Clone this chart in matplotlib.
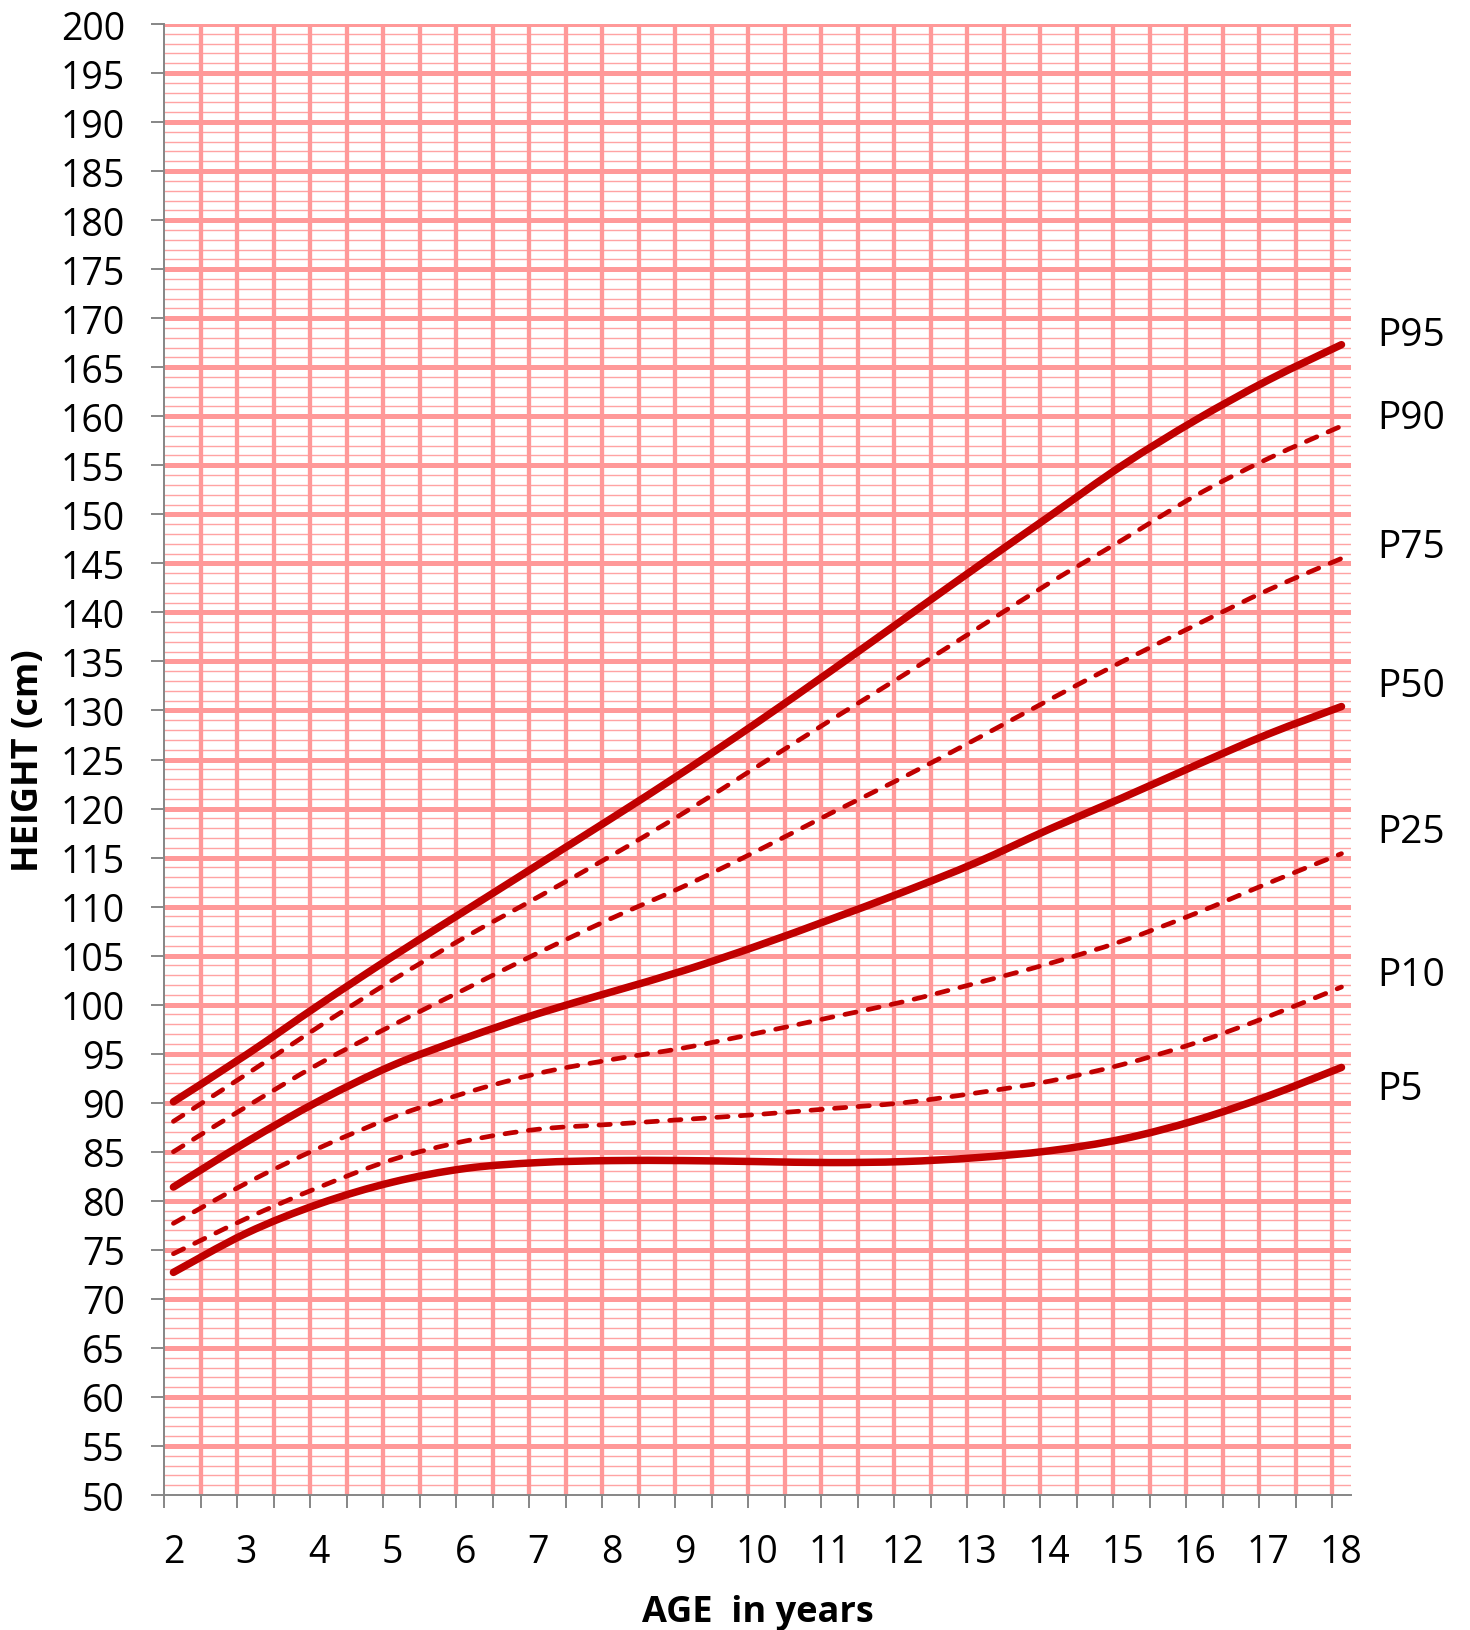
import numpy as np
import matplotlib
matplotlib.use("Agg")
import matplotlib.pyplot as plt
from matplotlib.path import Path
from matplotlib.patches import PathPatch

plt.rcParams['font.family'] = ['Open Sans', 'DejaVu Sans']

# percentile curves, height in cm read per year of age
ages = [2, 3, 4, 5, 6, 7, 8, 9, 10, 11, 12, 13, 14, 15, 16, 17, 18]
p95 = [90.1, 94.9, 100.0, 104.9, 109.6, 114.3, 119.0, 123.8, 128.8, 134.0, 139.3, 144.6, 149.8, 155.0, 159.6, 163.7, 167.3]
p90 = [88.1, 92.9, 97.8, 102.5, 106.9, 111.0, 115.2, 119.6, 124.3, 129.0, 133.6, 138.3, 143.0, 147.4, 151.9, 155.7, 159.0]
p75 = [85.0, 89.6, 94.0, 97.9, 101.6, 105.3, 108.8, 112.1, 115.7, 119.5, 123.2, 127.1, 131.1, 135.0, 138.7, 142.3, 145.5]
p50 = [81.4, 86.0, 90.2, 93.8, 96.6, 99.1, 101.3, 103.5, 106.0, 108.7, 111.5, 114.5, 117.9, 121.1, 124.4, 127.6, 130.4]
p25 = [77.7, 81.8, 85.4, 88.5, 91.0, 93.0, 94.4, 95.6, 97.1, 98.7, 100.3, 102.2, 104.2, 106.5, 109.3, 112.4, 115.4]
p10 = [74.6, 78.2, 81.4, 84.2, 86.1, 87.3, 87.8, 88.3, 88.8, 89.4, 90.0, 91.0, 92.2, 93.9, 96.1, 98.8, 101.8]
p5 = [72.7, 76.7, 79.7, 81.9, 83.3, 83.9, 84.1, 84.1, 84.0, 83.9, 84.0, 84.4, 85.1, 86.3, 88.2, 90.7, 93.6]

names = ['P95', 'P90', 'P75', 'P50', 'P25', 'P10', 'P5']
series = [p95, p90, p75, p50, p25, p10, p5]
solid = [True, False, False, True, False, False, True]
label_y = [168.25, 159.85, 146.65, 132.45, 117.65, 103.05, 91.35]

pink = '#FF9999'
red = '#C00000'
grey = '#868686'


def smooth_path(xs, ys):
    # smoothed line through the points (bezier segments, like a spreadsheet "smoothed line")
    pts = np.column_stack([xs, ys]).astype(float)
    n = len(pts)
    verts = [pts[0]]
    codes = [Path.MOVETO]
    for i in range(n - 1):
        p0 = pts[max(i - 1, 0)]
        p1 = pts[i]
        p2 = pts[i + 1]
        p3 = pts[min(i + 2, n - 1)]
        verts += [p1 + (p2 - p0) / 6, p2 - (p3 - p1) / 6, p2]
        codes += [Path.CURVE4] * 3
    return Path(verts, codes)


fig = plt.figure(figsize=(14.7, 16.31), dpi=100)
ax = fig.add_axes([0.11177, 0.08277, 0.80701, 0.9019])

ax.set_xlim(1.875, 18.125)
ax.set_ylim(50, 200)

# grid: thin lines every cm, thick every 5 cm, thick vertical every half year
minor_y = [v for v in range(51, 200) if v % 5 != 0]
major_y = list(range(55, 201, 5))
half_years = np.arange(2.375, 18.0, 0.5)
ax.hlines(minor_y, 1.875, 18.125, colors='#FFA3A3', linewidth=1.0, zorder=1)
ax.vlines(half_years, 50, 200, colors=pink, linewidth=3.1, zorder=2)
ax.hlines(major_y, 1.875, 18.125, colors=pink, linewidth=3.6, zorder=2)

for name, vals, is_solid, ly in zip(names, series, solid, label_y):
    if is_solid:
        patch = PathPatch(smooth_path(ages, vals), fill=False, edgecolor=red,
                          linewidth=5.4, capstyle='round', joinstyle='round', zorder=5)
    else:
        patch = PathPatch(smooth_path(ages, vals), fill=False, edgecolor=red,
                          linewidth=3.4, linestyle=(0, (2.4, 2.6)),
                          capstyle='round', joinstyle='round', zorder=4)
    ax.add_patch(patch)
    ax.text(18.49, ly, name, fontsize=28, ha='left', va='center', clip_on=False)

# axes
for side in ['top', 'right']:
    ax.spines[side].set_visible(False)
for side in ['left', 'bottom']:
    ax.spines[side].set_color(grey)
    ax.spines[side].set_linewidth(1.4)
    ax.spines[side].set_zorder(6)

ax.set_yticks(range(50, 201, 5))
ax.tick_params(axis='y', direction='out', length=9.4, width=1.4, color=grey,
               labelsize=27, pad=19)

ax.set_xticks(ages)
ax.set_xticks(np.arange(1.875, 18.0, 0.5), minor=True)
ax.tick_params(axis='x', which='major', length=0, labelsize=27, pad=27)
ax.tick_params(axis='x', which='minor', direction='out', length=9.4, width=1.4, color=grey)

ax.set_xlabel('AGE  in years', fontsize=26, fontweight='bold', labelpad=17)
ax.set_ylabel('HEIGHT (cm)', fontsize=26, fontweight='bold', labelpad=10)

fig.savefig('out.png', dpi=100)
